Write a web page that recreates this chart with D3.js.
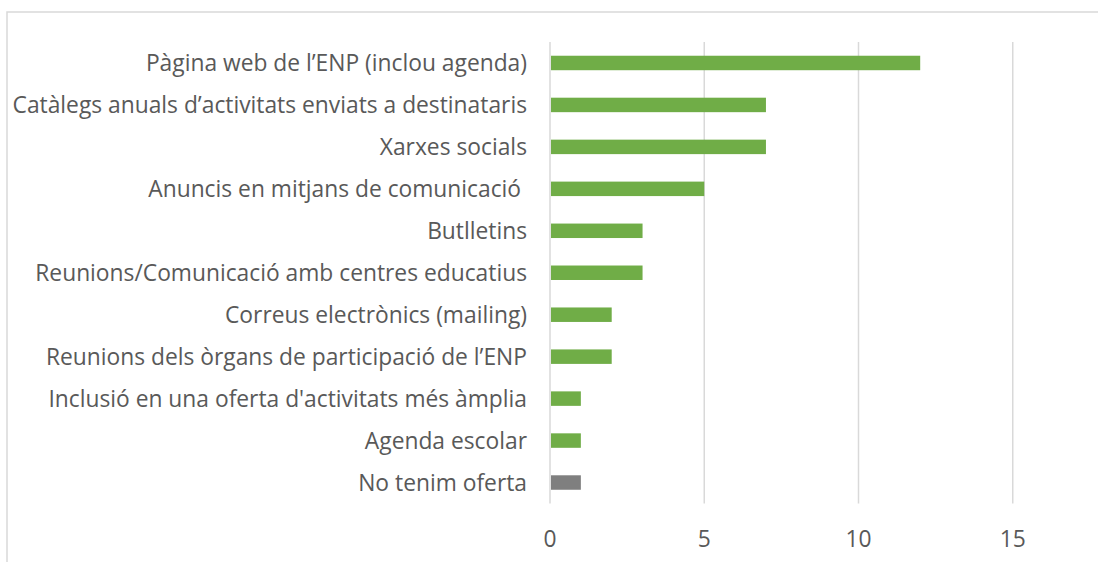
<!DOCTYPE html>
<html>
<head>
<meta charset="utf-8">
<script src="https://cdn.jsdelivr.net/npm/d3@7"></script>
<style>
  body { margin: 0; background: #fff; }
  svg text { font-family: "Open Sans", "Noto Sans", sans-serif; fill: #595959; white-space: pre; }
</style>
</head>
<body>
<svg width="1098" height="562"></svg>
<script>
// categories from top to bottom
var categories = [
  "Pàgina web de l’ENP (inclou agenda)",
  "Catàlegs anuals d’activitats enviats a destinataris",
  "Xarxes socials",
  "Anuncis en mitjans de comunicació ",
  "Butlletins",
  "Reunions/Comunicació amb centres educatius",
  "Correus electrònics (mailing)",
  "Reunions dels òrgans de participació de l’ENP",
  "Inclusió en una oferta d'activitats més àmplia",
  "Agenda escolar",
  "No tenim oferta"
];
var values = [12, 7, 7, 5, 3, 3, 2, 2, 1, 1, 1];
var xTicks = [0, 5, 10, 15];

var svg = d3.select("svg");

// chart border (cropped on right and bottom)
svg.append("path")
  .attr("d", "M7,1000V12H1200")
  .attr("fill", "none")
  .attr("stroke", "#d9d9d9")
  .attr("stroke-width", 1.5);

var plot = { left: 550, top: 42, bottom: 503.5 };

// axis max is 20, off the right edge of the picture
var x = d3.scaleLinear().domain([0, 20]).range([plot.left, plot.left + 20 * 30.85]);
var y = d3.scaleBand().domain(categories).range([plot.top, plot.bottom]).paddingInner(0.655).paddingOuter(0.3275);

// gridlines
svg.append("g")
  .selectAll("line")
  .data(xTicks)
  .join("line")
  .attr("x1", function (d) { return x(d); })
  .attr("x2", function (d) { return x(d); })
  .attr("y1", plot.top)
  .attr("y2", plot.bottom)
  .attr("stroke", "#d9d9d9")
  .attr("stroke-width", 1.5);

// bars
svg.append("g")
  .selectAll("rect")
  .data(values)
  .join("rect")
  .attr("x", x(0) + 1)
  .attr("y", function (d, i) { return y(categories[i]); })
  .attr("width", function (d) { return x(d) - x(0) - 1; })
  .attr("height", y.bandwidth())
  .attr("fill", function (d, i) { return categories[i] === "No tenim oferta" ? "#7f7f7f" : "#70ad47"; });

// category labels
svg.append("g")
  .selectAll("text")
  .data(categories)
  .join("text")
  .attr("x", 527)
  .attr("y", function (d) { return y(d) + y.bandwidth() / 2; })
  .attr("dy", "0.36em")
  .attr("text-anchor", "end")
  .attr("font-size", 22.8)
  .text(function (d) { return d; });

// x tick labels
svg.append("g")
  .selectAll("text")
  .data(xTicks)
  .join("text")
  .attr("x", function (d) { return x(d); })
  .attr("y", 539)
  .attr("dy", "0.36em")
  .attr("text-anchor", "middle")
  .attr("font-size", 22.8)
  .text(function (d) { return d; });
</script>
</body>
</html>
